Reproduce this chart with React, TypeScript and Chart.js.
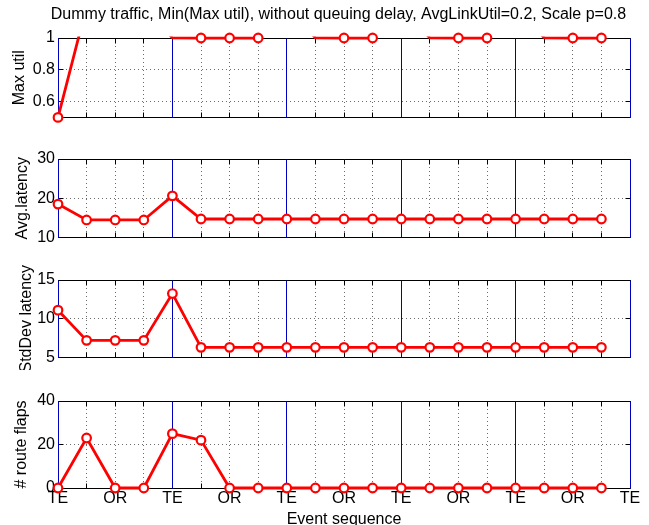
import React, { useEffect, useRef } from 'react';
import { Chart, registerables } from 'chart.js';

Chart.register(...registerables);

const TITLE = 'Dummy traffic, Min(Max util), without queuing delay, AvgLinkUtil=0.2, Scale p=0.8';
const X_TITLE = 'Event sequence';
const EVENT_INDEX = [0, 1, 2, 3, 4, 5, 6, 7, 8, 9, 10, 11, 12, 13, 14, 15, 16, 17, 18, 19];
const X_TICK_LABELS = ['TE', '', 'OR', '', 'TE', '', 'OR', '', 'TE', '', 'OR', '', 'TE', '', 'OR', '', 'TE', '', 'OR', '', 'TE'];
const SEPARATORS = [0, 4, 8, 12, 16, 20];

const MAX_UTIL = [0.5, 1.2, 1.2, 1.2, 1.001, 1, 1, 1, 1.2, 1.001, 1, 1, 1.2, 1.001, 1, 1, 1.2, 1.001, 1, 1];
const AVG_LATENCY = [18.5, 14.45, 14.45, 14.45, 20.6, 14.7, 14.7, 14.7, 14.7, 14.7, 14.7, 14.7, 14.7, 14.7, 14.7, 14.7, 14.7, 14.7, 14.7, 14.7];
const STD_LATENCY = [11.1, 7.2, 7.2, 7.2, 13.25, 6.3, 6.3, 6.3, 6.3, 6.3, 6.3, 6.3, 6.3, 6.3, 6.3, 6.3, 6.3, 6.3, 6.3, 6.3];
const ROUTE_FLAPS = [0, 23, 0, 0, 25, 22, 0, 0, 0, 0, 0, 0, 0, 0, 0, 0, 0, 0, 0, 0];

const MAX_UTIL_TICKS = [0.6, 0.8, 1];
const AVG_LATENCY_TICKS = [10, 20, 30];
const STD_LATENCY_TICKS = [5, 10, 15];
const ROUTE_FLAPS_TICKS = [0, 20, 40];

const FONT = '"Liberation Sans", Arial, Helvetica, sans-serif';
const FS = 16;

type PanelDef = {
  label: string;
  values: number[];
  ticks: number[];
  min: number;
  max: number;
  top: number;
  height: number;
  padTop: number;
  padBottom: number;
  xAxisHeight: number;
  labelPad: number;
  first: boolean;
  last: boolean;
  clipAbove: boolean;
};

const PANELS: PanelDef[] = [
  { label: 'Max util', values: MAX_UTIL, ticks: MAX_UTIL_TICKS, min: 0.5, max: 1, top: 0, height: 130, padTop: 38, padBottom: 6, xAxisHeight: 0, labelPad: 10, first: true, last: false, clipAbove: true },
  { label: 'Avg.latency', values: AVG_LATENCY, ticks: AVG_LATENCY_TICKS, min: 10, max: 30, top: 130, height: 120, padTop: 29, padBottom: 5, xAxisHeight: 0, labelPad: 12.5, first: false, last: false, clipAbove: false },
  { label: 'StdDev latency', values: STD_LATENCY, ticks: STD_LATENCY_TICKS, min: 5, max: 15, top: 250, height: 120, padTop: 30, padBottom: 4, xAxisHeight: 0, labelPad: 16.5, first: false, last: false, clipAbove: false },
  { label: '# route flaps', values: ROUTE_FLAPS, ticks: ROUTE_FLAPS_TICKS, min: 0, max: 40, top: 370, height: 155, padTop: 31, padBottom: 0, xAxisHeight: 37, labelPad: 11.5, first: false, last: true, clipAbove: false },
];

const snap = (v: number) => Math.round(v - 0.5) + 0.5;

const framePlugin = {
  id: 'matlabFrame',
  beforeDatasetsDraw(chart: any) {
    const { ctx, chartArea } = chart;
    const xs = chart.scales.x;
    const ys = chart.scales.y;
    const L = snap(chartArea.left);
    const R = snap(chartArea.right);
    const T = snap(chartArea.top);
    const B = snap(chartArea.bottom);
    const tickLen = 5;
    ctx.save();
    ctx.lineWidth = 1;
    ctx.strokeStyle = '#000';
    ctx.setLineDash([]);
    ctx.beginPath();
    ctx.rect(L, T, R - L, B - T);
    for (let i = 0; i < X_TICK_LABELS.length; i++) {
      const px = snap(xs.getPixelForValue(i));
      ctx.moveTo(px, B);
      ctx.lineTo(px, B - tickLen);
      ctx.moveTo(px, T);
      ctx.lineTo(px, T + tickLen);
    }
    const yt = (chart.options.plugins.matlabFrame || {}).yTicks || [];
    for (const v of yt) {
      const py = snap(ys.getPixelForValue(v));
      ctx.moveTo(L, py);
      ctx.lineTo(L + tickLen, py);
      ctx.moveTo(R, py);
      ctx.lineTo(R - tickLen, py);
    }
    ctx.stroke();
    ctx.strokeStyle = '#0000c0';
    ctx.beginPath();
    for (const s of SEPARATORS) {
      const px = snap(xs.getPixelForValue(s));
      ctx.moveTo(px, T);
      ctx.lineTo(px, B);
    }
    ctx.stroke();
    const title = (chart.options.plugins.matlabFrame || {}).title;
    if (title) {
      ctx.fillStyle = '#000';
      ctx.font = `${FS}px ${FONT}`;
      ctx.textAlign = 'center';
      ctx.textBaseline = 'middle';
      ctx.fillText(title, (chartArea.left + chartArea.right) / 2 - 5.5, 15);
    }
    ctx.restore();
  },
};

export default function App() {
  const refs = useRef<(HTMLCanvasElement | null)[]>([]);

  useEffect(() => {
    const charts: Chart[] = [];
    PANELS.forEach((p, idx) => {
      const canvas = refs.current[idx];
      if (!canvas) return;
      const lineData = EVENT_INDEX.map((x, i) => ({ x, y: p.values[i] }));
      const markerData = EVENT_INDEX.map((x, i) => ({ x, y: p.values[i] <= p.max ? p.values[i] : null }));
      const datasets: any[] = [
        {
          data: lineData,
          borderColor: '#ff0000',
          borderWidth: 2.8,
          pointRadius: 0,
          pointHoverRadius: 0,
          clip: p.clipAbove ? { left: 0, right: 0, top: 1.5, bottom: 6 } : false,
          order: 2,
        },
        {
          data: markerData,
          showLine: false,
          borderColor: '#ff0000',
          backgroundColor: '#ffffff',
          pointRadius: 4.3,
          pointBorderWidth: 2.2,
          pointBackgroundColor: '#ffffff',
          pointBorderColor: '#ff0000',
          clip: false,
          order: 1,
        },
      ];
      const gridCfg = {
        color: '#6a6a6a',
        lineWidth: 1,
        drawTicks: false,
      };
      const borderCfg = { display: false, dash: [1, 3] };
      const chart = new Chart(canvas, {
        type: 'line',
        data: { datasets },
        plugins: [framePlugin],
        options: {
          animation: false,
          responsive: false,
          devicePixelRatio: 1,
          events: [],
          layout: { padding: { top: p.padTop, bottom: p.padBottom, left: 0, right: 19 } },
          plugins: {
            legend: { display: false },
            tooltip: { enabled: false },
            title: { display: false },
            matlabFrame: { yTicks: p.ticks, title: p.first ? TITLE : null },
          } as any,
          scales: {
            x: {
              type: 'linear',
              min: 0,
              max: X_TICK_LABELS.length - 1,
              afterBuildTicks: (s: any) => {
                s.ticks = X_TICK_LABELS.map((_, i) => ({ value: i }));
              },
              afterFit: (s: any) => {
                s.height = p.xAxisHeight;
              },
              ticks: {
                display: p.last,
                autoSkip: false,
                maxRotation: 0,
                padding: 1,
                color: '#000',
                font: { family: FONT, size: FS },
                callback: (_v: any, i: number) => X_TICK_LABELS[i] ?? '',
              },
              grid: gridCfg,
              border: borderCfg,
              title: {
                display: p.last,
                text: X_TITLE,
                color: '#000',
                font: { family: FONT, size: FS },
                padding: { top: 0, bottom: -4 },
              },
            },
            y: {
              type: 'linear',
              min: p.min,
              max: p.max,
              afterBuildTicks: (s: any) => {
                s.ticks = p.ticks.map((v) => ({ value: v }));
              },
              afterFit: (s: any) => {
                s.width = 58;
              },
              ticks: {
                color: '#000',
                padding: 3,
                font: { family: FONT, size: FS },
                callback: (v: any) => String(v),
              },
              grid: gridCfg,
              border: borderCfg,
              title: {
                display: true,
                text: p.label,
                color: '#000',
                font: { family: FONT, size: FS },
                padding: { top: p.labelPad, bottom: 0 },
              },
            },
          },
        } as any,
      });
      charts.push(chart);
    });
    return () => charts.forEach((c) => c.destroy());
  }, []);

  return (
    <div style={{ position: 'absolute', left: 0, top: 0, width: 649, height: 525, background: '#fff', overflow: 'hidden' }}>
      {PANELS.map((p, idx) => (
        <canvas
          key={idx}
          ref={(el) => {
            refs.current[idx] = el;
          }}
          width={649}
          height={p.height}
          style={{ position: 'absolute', left: 0, top: p.top, width: 649, height: p.height }}
        />
      ))}
    </div>
  );
}
